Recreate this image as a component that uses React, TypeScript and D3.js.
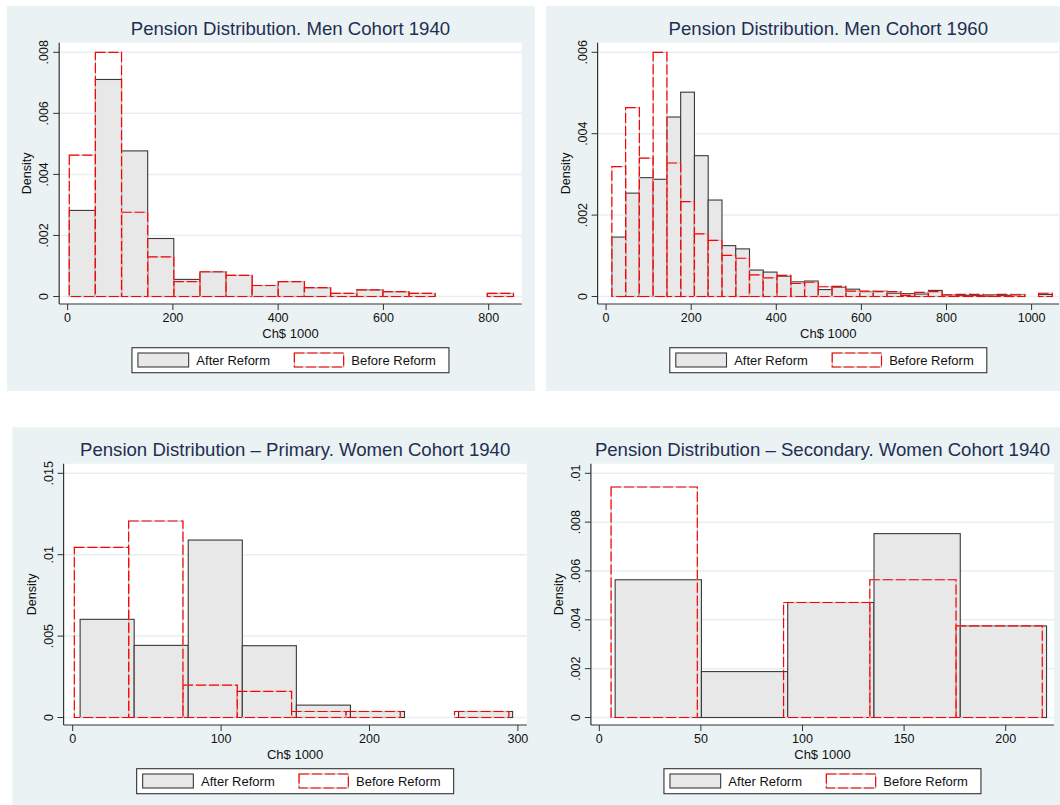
import * as d3 from "d3"

// ---- data ----
// Men cohort 1940
const men40AfterStart = 3.2
const men40Width = 49.64
const men40After = [0.00282, 0.00711, 0.00477, 0.0019, 0.00056, 0.00081, 0.00069, 0.00036, 0.00049, 0.00029, 0.0001, 0.00022, 0.00016, 0.0001, 0, 0, 0.0001]
const men40Before = [0.00463, 0.008, 0.00276, 0.0013, 0.00049, 0.00081, 0.00069, 0.00036, 0.00049, 0.00029, 0.0001, 0.00022, 0.00016, 0.0001, 0, 0, 0.0001]

// Men cohort 1960
const men60Start = 13.5
const men60Width = 32.35
const men60After = [
  0.00146, 0.00254, 0.00292, 0.00288, 0.00441, 0.00502, 0.00346, 0.00237, 0.00125, 0.00117, 0.00065, 0.0006, 0.0005, 0.00036,
  0.00038, 0.00017, 0.00023, 0.00018, 0.00012, 0.00013, 0.00008, 0.00007, 0.00006, 0.00015, 0.00004, 0.00003, 0.00003, 0.00004,
  0.00003, 0.00005, 0, 0.00005,
]
const men60Before = [
  0.00319, 0.00464, 0.0034, 0.006, 0.00328, 0.00233, 0.00154, 0.00138, 0.00101, 0.00094, 0.00053, 0.00046, 0.00052, 0.00032,
  0.00035, 0.00024, 0.00025, 0.00013, 0.00013, 0.00012, 0.00012, 0.00003, 0.0001, 0.00012, 0.00004, 0.00005, 0.00005, 0.00001,
  0.00005, 0.00004, 0, 0.00008,
]

// Women cohort 1940, primary
const primAfterStart = 5.0
const primAfterWidth = 36.43
const primAfter = [0.00603, 0.00443, 0.0109, 0.00441, 0.00076, 0.00037, 0, 0.00037]
const primBeforeStart = 1.1
const primBeforeWidth = 36.6
const primBefore = [0.01045, 0.01207, 0.00199, 0.0016, 0.00037, 0.00037, 0, 0.00037]

// Women cohort 1940, secondary
const secAfterStart = 7.8
const secAfterWidth = 42.46
const secAfter = [0.00564, 0.00188, 0.00471, 0.00753, 0.00375]
const secBeforeStart = 5.8
const secBeforeWidth = 42.44
const secBefore = [0.00944, 0, 0.00471, 0.00564, 0.00375]

const titles = [
  "Pension Distribution. Men Cohort 1940",
  "Pension Distribution. Men Cohort 1960",
  "Pension Distribution \u2013 Primary. Women Cohort 1940",
  "Pension Distribution \u2013 Secondary. Women Cohort 1940",
]
const xTicks1 = [0, 200, 400, 600, 800]
const xTicks2 = [0, 200, 400, 600, 800, 1000]
const xTicks3 = [0, 100, 200, 300]
const xTicks4 = [0, 50, 100, 150, 200]
const yTicks1 = [0, 0.002, 0.004, 0.006, 0.008]
const yTicks2 = [0, 0.002, 0.004, 0.006]
const yTicks3 = [0, 0.005, 0.01, 0.015]
const yTicks4 = [0, 0.002, 0.004, 0.006, 0.008, 0.01]
const legendLabels = ["After Reform", "Before Reform"]
const xTitle = "Ch$ 1000"
const yTitle = "Density"

const FONT = "'Liberation Sans', Arial, Helvetica, sans-serif"
const BG = "#EAF2F3"
const GRID = "#E6EFF1"
const AXIS = "#333333"
const RED = "#FF0000"
const FILL = "#E8E8E8"

interface Hist {
  start: number
  width: number
  heights: number[]
}

interface PanelProps {
  title: string
  bg: [number, number, number, number]
  oy: number
  plotL: number
  plotR: number
  xRef: [number, number, number] // value, pixel at 0, pixel at value
  xTicks: number[]
  yTicks: number[]
  after: Hist
  before: Hist
}

const fmtY = (v: number) => (v === 0 ? "0" : String(v).replace(/^0/, ""))

function Panel({ title, bg, oy, plotL, plotR, xRef, xTicks, yTicks, after, before }: PanelProps) {
  const x = d3.scaleLinear().domain([0, xRef[0]]).range([xRef[1], xRef[2]])
  const yMax = yTicks[yTicks.length - 1]
  const y = d3.scaleLinear().domain([0, yMax]).range([oy + 296.5, oy + 52.3])
  const plotTop = oy + 42.7
  const axisY = oy + 304
  const cx = (plotL + plotR) / 2
  const legW = 317
  const legX = cx - legW / 2
  const legY = oy + 347.7

  const bars = (h: Hist) =>
    h.heights
      .map((v, i) => ({ x0: h.start + i * h.width, x1: h.start + (i + 1) * h.width, v }))
      .filter((d) => d.v > 0)

  return (
    <g>
      <rect x={bg[0]} y={bg[1]} width={bg[2]} height={bg[3]} fill={BG} />
      <rect x={plotL} y={plotTop} width={plotR - plotL} height={axisY - plotTop} fill="#fff" />
      {yTicks.map((t) => (
        <line key={"g" + t} x1={plotL} x2={plotR} y1={y(t)} y2={y(t)} stroke={GRID} strokeWidth={1.5} />
      ))}
      {bars(after).map((d, i) => (
        <rect
          key={"a" + i}
          x={x(d.x0)}
          y={y(d.v)}
          width={x(d.x1) - x(d.x0)}
          height={y(0) - y(d.v)}
          fill={FILL}
          stroke="#3a3a3a"
          strokeWidth={1.1}
        />
      ))}
      {bars(before).map((d, i) => (
        <g key={"b" + i}>
          <rect
            x={x(d.x0)}
            y={y(d.v)}
            width={x(d.x1) - x(d.x0)}
            height={y(0) - y(d.v)}
            fill="none"
            stroke="#c4c4c4"
            strokeWidth={1}
          />
          <rect
            x={x(d.x0)}
            y={y(d.v)}
            width={x(d.x1) - x(d.x0)}
            height={y(0) - y(d.v)}
            fill="none"
            stroke={RED}
            strokeWidth={1.2}
            strokeDasharray="10,3"
          />
        </g>
      ))}
      {/* axes */}
      <line x1={plotL} x2={plotL} y1={plotTop} y2={axisY} stroke={AXIS} strokeWidth={1.2} />
      <line x1={plotL} x2={plotR} y1={axisY} y2={axisY} stroke={AXIS} strokeWidth={1.2} />
      {yTicks.map((t) => (
        <g key={"y" + t}>
          <line x1={plotL - 6} x2={plotL} y1={y(t)} y2={y(t)} stroke={AXIS} strokeWidth={1} />
          <text
            transform={`translate(${plotL - 11},${y(t)}) rotate(-90)`}
            textAnchor="middle"
            fontSize={12.5}
            fill="#111"
          >
            {fmtY(t)}
          </text>
        </g>
      ))}
      {xTicks.map((t) => (
        <g key={"x" + t}>
          <line x1={x(t)} x2={x(t)} y1={axisY} y2={axisY + 6} stroke={AXIS} strokeWidth={1} />
          <text x={x(t)} y={oy + 322} textAnchor="middle" fontSize={12.5} fill="#111">
            {t}
          </text>
        </g>
      ))}
      <text
        transform={`translate(${plotL - 28},${(plotTop + axisY) / 2}) rotate(-90)`}
        textAnchor="middle"
        fontSize={12.5}
        fill="#111"
      >
        {yTitle}
      </text>
      <text x={cx} y={oy + 337.5} textAnchor="middle" fontSize={13} fill="#111">
        {xTitle}
      </text>
      <text x={cx} y={oy + 35} textAnchor="middle" fontSize={18.6} fill="#1F2E52">
        {title}
      </text>
      {/* legend */}
      <rect x={legX} y={legY} width={legW} height={25} fill="#fff" stroke="#333" strokeWidth={1.1} />
      <rect x={legX + 6} y={legY + 5.3} width={50.7} height={14} fill={FILL} stroke="#3a3a3a" strokeWidth={1.1} />
      <text x={legX + 64.4} y={legY + 17} fontSize={13} fill="#111">
        {legendLabels[0]}
      </text>
      <rect x={legX + 162.4} y={legY + 5.3} width={49.3} height={14} fill="#fff" stroke="#b0b0b0" strokeWidth={1} />
      <rect
        x={legX + 162.4}
        y={legY + 5.3}
        width={49.3}
        height={14}
        fill="none"
        stroke={RED}
        strokeWidth={1.2}
        strokeDasharray="10,3"
      />
      <text x={legX + 219.4} y={legY + 17} fontSize={13} fill="#111">
        {legendLabels[1]}
      </text>
    </g>
  )
}

export default function App() {
  return (
    <svg
      width={1060}
      height={805}
      style={{ position: "absolute", left: 0, top: 0, background: "#fff" }}
      fontFamily={FONT}
    >
      <Panel
        title={titles[0]}
        bg={[7, 6, 528, 385]}
        oy={0}
        plotL={59.2}
        plotR={521.7}
        xRef={[800, 67.6, 488.7]}
        xTicks={xTicks1}
        yTicks={yTicks1}
        after={{ start: men40AfterStart, width: men40Width, heights: men40After }}
        before={{ start: men40AfterStart, width: men40Width, heights: men40Before }}
      />
      <Panel
        title={titles[1]}
        bg={[546, 6, 528, 385]}
        oy={0}
        plotL={597.6}
        plotR={1059}
        xRef={[1000, 606.1, 1031.6]}
        xTicks={xTicks2}
        yTicks={yTicks2}
        after={{ start: men60Start, width: men60Width, heights: men60After }}
        before={{ start: men60Start, width: men60Width, heights: men60Before }}
      />
      <Panel
        title={titles[2]}
        bg={[12.5, 427.3, 517.5, 400]}
        oy={421}
        plotL={63.6}
        plotR={526.7}
        xRef={[300, 72.7, 517.9]}
        xTicks={xTicks3}
        yTicks={yTicks3}
        after={{ start: primAfterStart, width: primAfterWidth, heights: primAfter }}
        before={{ start: primBeforeStart, width: primBeforeWidth, heights: primBefore }}
      />
      <Panel
        title={titles[3]}
        bg={[530, 427.3, 530, 400]}
        oy={421}
        plotL={590.9}
        plotR={1054}
        xRef={[200, 599.3, 1005.7]}
        xTicks={xTicks4}
        yTicks={yTicks4}
        after={{ start: secAfterStart, width: secAfterWidth, heights: secAfter }}
        before={{ start: secBeforeStart, width: secBeforeWidth, heights: secBefore }}
      />
    </svg>
  )
}
